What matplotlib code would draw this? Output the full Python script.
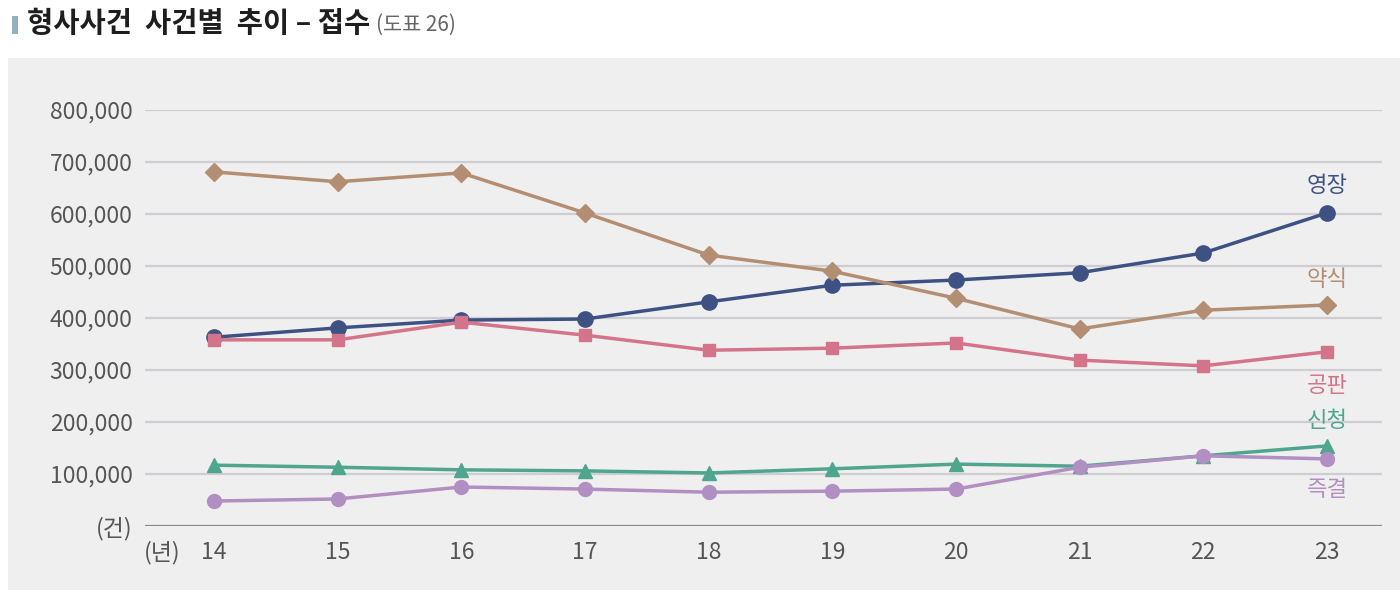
import matplotlib
matplotlib.use("Agg")
import matplotlib.pyplot as plt
from matplotlib.patches import Rectangle
from matplotlib.ticker import FuncFormatter

plt.rcParams['font.family'] = ['Noto Sans CJK KR', 'DejaVu Sans']

# Data (건), years 2014-2023
years = [14, 15, 16, 17, 18, 19, 20, 21, 22, 23]
warrant = [363000, 381000, 396000, 398000, 431000, 463000, 473000, 487000, 525000, 602000]      # 영장
summary = [681000, 662000, 679000, 602000, 521000, 490000, 438000, 379000, 415000, 425000]      # 약식
trial = [358000, 358000, 392000, 367000, 338000, 342000, 352000, 319000, 308000, 335000]        # 공판
request = [117000, 113000, 108000, 106000, 102000, 110000, 119000, 115000, 135000, 154000]      # 신청
summary_trial = [48000, 52000, 75000, 71000, 65000, 67000, 71000, 113000, 135000, 129000]       # 즉결

series = [
    ("영장", warrant, "#3d5283", "o", 11, 20),
    ("약식", summary, "#b38e72", "D", 9, 18),
    ("공판", trial, "#d4748b", "s", 9, -24),
    ("신청", request, "#4fa58d", "^", 10, 18),
    ("즉결", summary_trial, "#b18fc2", "o", 10, -22),
]

fig = plt.figure(figsize=(14, 6.01), dpi=100)
W, H = 1400, 601

# gray panel behind the chart
fig.patches.append(Rectangle((8 / W, 1 - 590 / H), 1, (590 - 58) / H,
                             transform=fig.transFigure, facecolor="#efefef",
                             edgecolor="none", zorder=-1))

# title
fig.patches.append(Rectangle((12 / W, 1 - 34 / H), 6 / W, 18 / H,
                             transform=fig.transFigure, facecolor="#8fb3bb",
                             edgecolor="none"))
fig.text(27 / W, 1 - 24 / H, "형사사건  사건별  추이 – 접수", fontsize=20.5,
         fontweight="heavy", color="#1e1e1e", va="center", ha="left")
fig.text(376 / W, 1 - 25 / H, "(도표 26)", fontsize=15, color="#666666",
         va="center", ha="left")

ax = fig.add_axes([145 / W, 1 - 526 / H, (1382 - 145) / W, (526 - 110) / H])
ax.set_facecolor("none")
ax.set_xlim(13.442, 23.445)
ax.set_ylim(0, 800000)

for v in range(100000, 800001, 100000):
    ax.axhline(v, color="#cdcdd2", lw=1.6, zorder=1)
ax.axhline(0, color="#8a8a8a", lw=1.6, zorder=1)

for name, vals, color, marker, ms, dy in series:
    ax.plot(years, vals, color=color, lw=2.5, marker=marker, markersize=ms,
            clip_on=False, zorder=3)
    ax.annotate(name, (years[-1], vals[-1]), xytext=(0, dy),
                textcoords="offset points", ha="center", va="center",
                fontsize=16, color=color)

for s in ax.spines.values():
    s.set_visible(False)

ax.set_yticks(range(0, 800001, 100000))
ax.yaxis.set_major_formatter(FuncFormatter(lambda v, p: "(건)" if v == 0 else f"{int(v):,}"))
ax.set_xticks(years)
ax.set_xticklabels([str(y) for y in years])
ax.tick_params(axis="both", length=0, labelsize=16.5, labelcolor="#555555")
ax.tick_params(axis="y", pad=9)
ax.tick_params(axis="x", pad=11)

fig.text(162 / W, 1 - 553 / H, "(년)", fontsize=16.5, color="#555555",
         ha="center", va="center")

fig.savefig("out.png", dpi=100, facecolor="white")
